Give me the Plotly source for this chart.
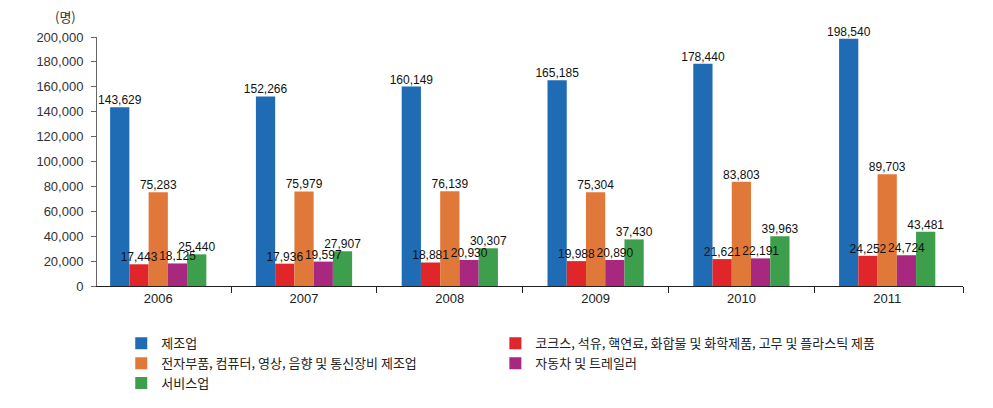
import plotly.graph_objects as go

years = ["2006", "2007", "2008", "2009", "2010", "2011"]
series_names = [
    "제조업",
    "코크스, 석유, 핵연료, 화합물 및 화학제품, 고무 및 플라스틱 제품",
    "전자부품, 컴퓨터, 영상, 음향 및 통신장비 제조업",
    "자동차 및 트레일러",
    "서비스업",
]
manufacturing = [143629, 152266, 160149, 165185, 178440, 198540]
chemicals = [17443, 17936, 18881, 19988, 21621, 24252]
electronics = [75283, 75979, 76139, 75304, 83803, 89703]
automobiles = [18125, 19597, 20930, 20890, 22191, 24724]
services = [25440, 27907, 30307, 37430, 39963, 43481]
y_ticks = [0, 20000, 40000, 60000, 80000, 100000, 120000, 140000, 160000, 180000, 200000]

colors = ["#1f6cb4", "#e1262b", "#e0783a", "#a8277f", "#3d9f4c"]
values = [manufacturing, chemicals, electronics, automobiles, services]
legend_ids = ["legend", "legend2", "legend", "legend2", "legend"]

GAP = 0.34
xpos = list(range(len(years)))
fig = go.Figure()
for i, (name, vals, col, lg) in enumerate(zip(series_names, values, colors, legend_ids)):
    fig.add_trace(go.Bar(
        x=xpos, y=vals, name=name, marker_color=col, marker_line_width=0,
        offsetgroup=f"g{i}", legend=lg, legendgroup=f"g{i}",
    ))
# value labels drawn above all bars
for i, vals in enumerate(values):
    fig.add_trace(go.Scatter(
        x=xpos, y=vals, mode="text", text=[f"{v:,}" for v in vals],
        textposition="top center", offsetgroup=f"g{i}", showlegend=False,
        textfont=dict(family="Liberation Sans", size=12, color="#111"),
        cliponaxis=False, hoverinfo="skip",
    ))

legend_common = dict(
    orientation="v", yanchor="top", xanchor="left",
    font=dict(family="Noto Sans CJK KR", size=13, color="#222"),
    traceorder="normal", tracegroupgap=6, bgcolor="rgba(0,0,0,0)",
)

# the page body has an 8px margin, so the figure is sized/offset to compensate
fig.update_layout(
    width=985, height=400, autosize=False,
    margin=dict(l=89, r=30, t=29, b=122, autoexpand=False),
    plot_bgcolor="white", paper_bgcolor="white",
    barmode="group", bargap=GAP, bargroupgap=0,
    scattermode="group", scattergap=GAP,
    font=dict(family="Liberation Sans", color="#333"),
    xaxis=dict(
        range=[-0.42, 5.52], tickvals=xpos, ticktext=years, ticks="",
        tickfont=dict(size=13, color="#222"),
        showline=True, linecolor="#222", linewidth=1, showgrid=False, zeroline=False,
        minor=dict(tickvals=[0.5, 1.5, 2.5, 3.5, 4.5, 5.52], ticks="outside", ticklen=6,
                   tickcolor="#222", showgrid=False),
    ),
    yaxis=dict(
        range=[0, 200000], tickvals=y_ticks, tickformat=",", ticks="outside", ticklen=5,
        ticklabelstandoff=5,
        tickcolor="#666", tickfont=dict(size=13, color="#333"),
        showline=True, linecolor="#666", showgrid=False, zeroline=False,
    ),
    legend=dict(x=0.028, y=-0.17, **legend_common),
    legend2=dict(x=0.46, y=-0.17, **legend_common),
    annotations=[dict(text="(명)", x=-0.036, y=1.084, xref="paper", yref="paper",
                      xanchor="center", yanchor="middle",
                      showarrow=False, font=dict(family="Noto Sans CJK KR", size=13, color="#333"))],
)
fig.write_html("out.html")
